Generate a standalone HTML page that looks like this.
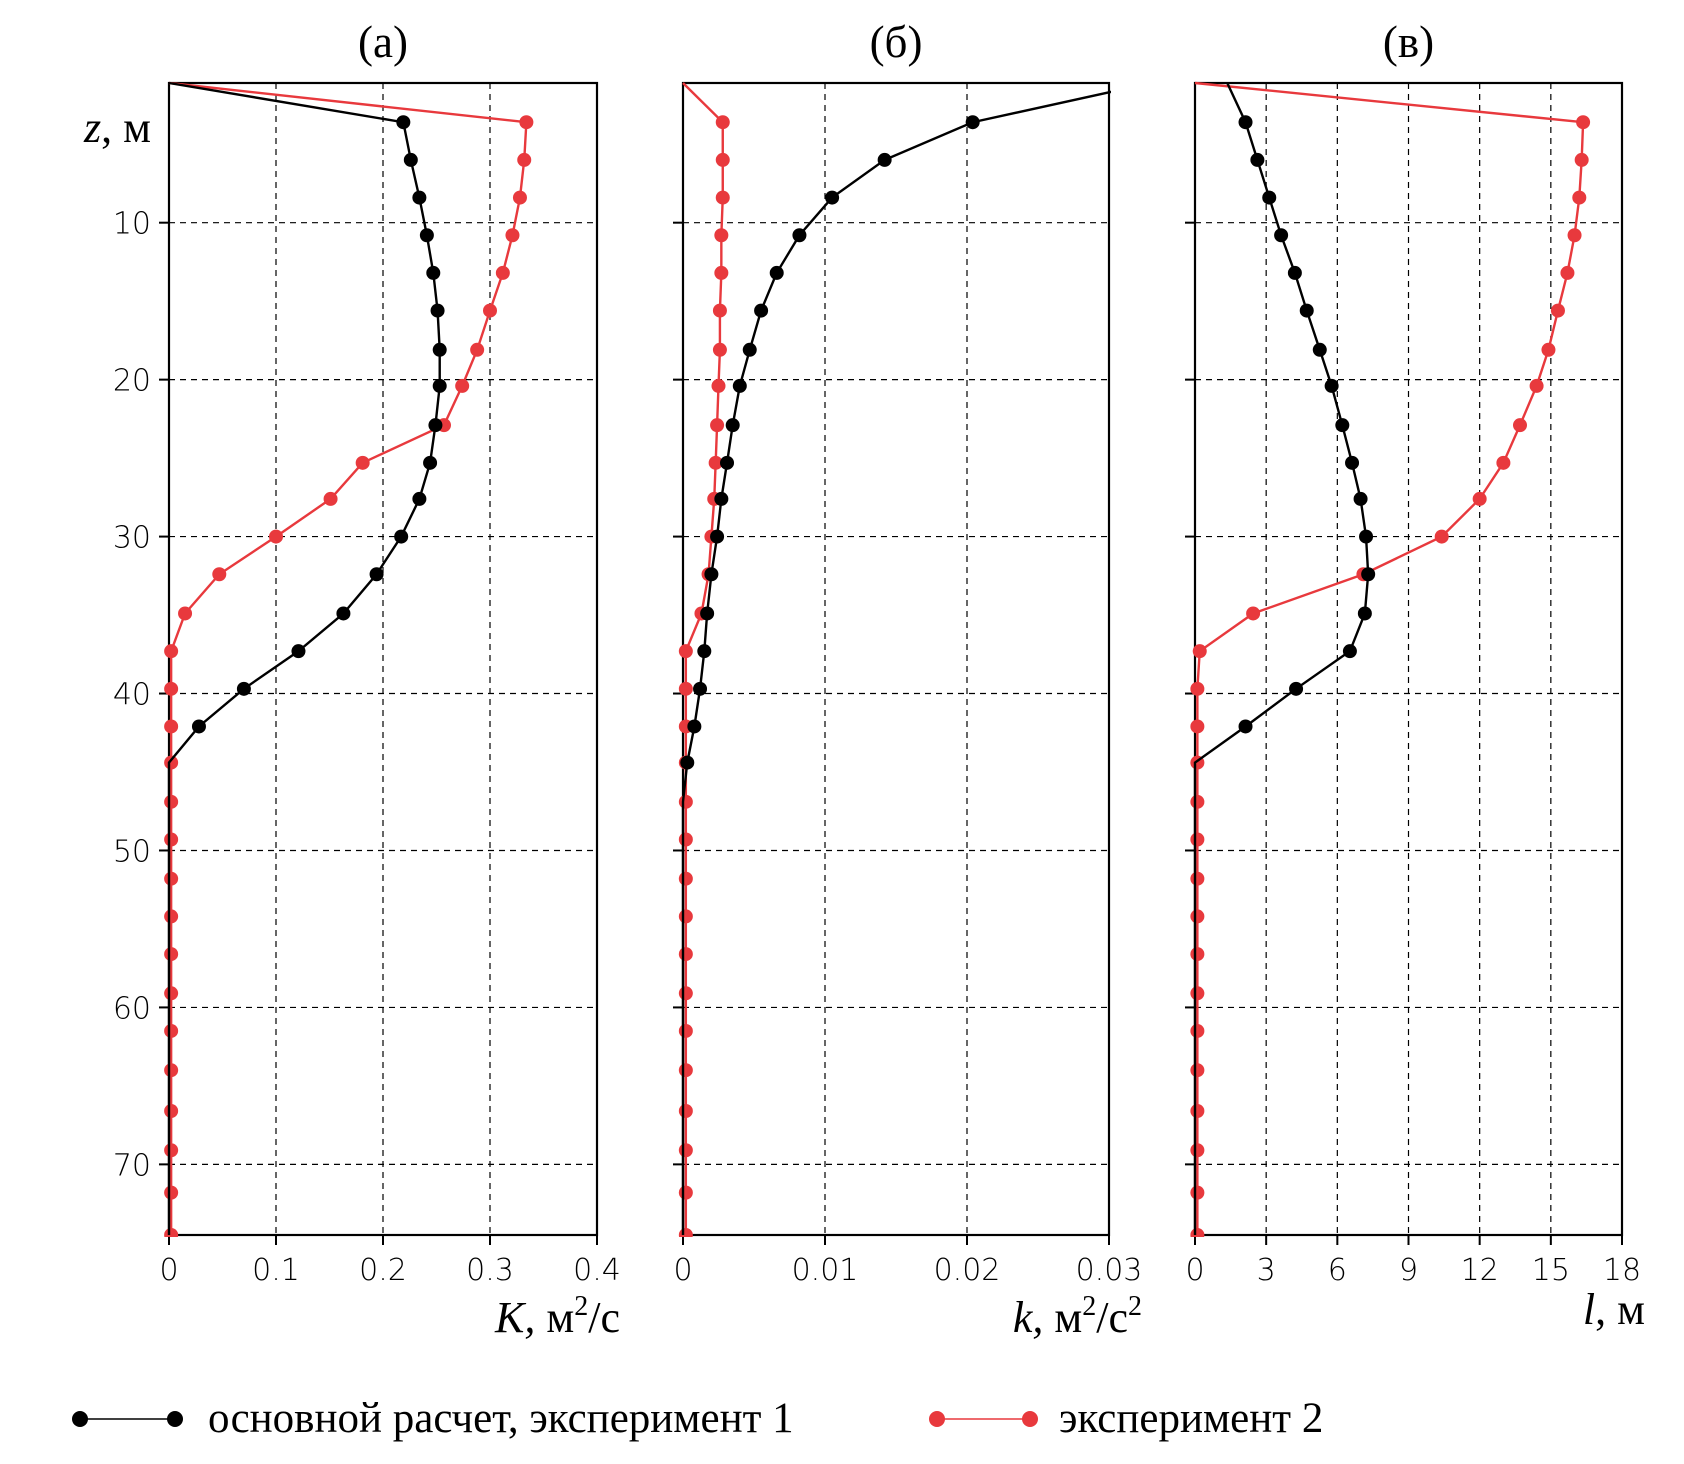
<!DOCTYPE html>
<html><head><meta charset="utf-8"><style>
html,body{margin:0;padding:0;background:#fff;}
svg{display:block;}
.tick{font-family:"DejaVu Sans","Liberation Sans",sans-serif;font-size:30px;fill:#000;font-weight:200;}
.serif{font-family:"Liberation Serif","DejaVu Serif",serif;fill:#000;}
</style></head><body>
<svg id="chart" width="1684" height="1464" viewBox="0 0 1684 1464" xmlns="http://www.w3.org/2000/svg"></svg>
<script>
const zLevels=[1.1,3.6,6.0,8.4,10.8,13.2,15.6,18.1,20.4,22.9,25.3,27.6,30.0,32.4,34.9,37.3,39.7,42.1,44.4,46.9,49.3,51.8,54.2,56.6,59.1,61.5,64.0,66.6,69.1,71.8,74.5];
const zTicks=[10,20,30,40,50,60,70];
const K1=[0,0.219,0.226,0.234,0.241,0.247,0.251,0.253,0.253,0.249,0.244,0.234,0.217,0.194,0.163,0.121,0.070,0.028,0,0,0,0,0,0,0,0,0,0,0,0,0];
const K2=[0,0.334,0.332,0.328,0.321,0.312,0.300,0.288,0.274,0.257,0.181,0.151,0.100,0.047,0.015,0.002,0.002,0.002,0.002,0.002,0.002,0.002,0.002,0.002,0.002,0.002,0.002,0.002,0.002,0.002,0.002];
const k1=[0.033,0.0204,0.0142,0.0105,0.0082,0.0066,0.0055,0.0047,0.0040,0.0035,0.0031,0.0027,0.0024,0.0020,0.0017,0.0015,0.0012,0.0008,0.0003,0,0,0,0,0,0,0,0,0,0,0,0];
const k2=[0,0.0028,0.0028,0.0028,0.0027,0.0027,0.0026,0.0026,0.0025,0.0024,0.0023,0.0022,0.0020,0.0018,0.0013,0.0002,0.0002,0.0002,0.0002,0.0002,0.0002,0.0002,0.0002,0.0002,0.0002,0.0002,0.0002,0.0002,0.0002,0.0002,0.0002];
const l1=[1.36,2.13,2.63,3.13,3.63,4.21,4.71,5.26,5.76,6.21,6.62,6.98,7.21,7.3,7.16,6.53,4.26,2.13,0,0,0,0,0,0,0,0,0,0,0,0,0];
const l2=[0,16.36,16.3,16.2,16.0,15.7,15.3,14.9,14.4,13.7,13.0,12.0,10.4,7.1,2.45,0.2,0.1,0.1,0.1,0.1,0.1,0.1,0.1,0.1,0.1,0.1,0.1,0.1,0.1,0.1,0.1];
const ticksA=["0","0.1","0.2","0.3","0.4"], ticksB=["0","0.01","0.02","0.03"], ticksC=["0","3","6","9","12","15","18"];

const NS="http://www.w3.org/2000/svg";
const svg=document.getElementById('chart');
const TOP=83,BOT=1235,ZMIN=1.1,ZMAX=74.5;
function yOf(z){return TOP+(z-ZMIN)/(ZMAX-ZMIN)*(BOT-TOP);}
function mk(tag,attrs,parent){const e=document.createElementNS(NS,tag);for(const k in attrs)e.setAttribute(k,attrs[k]);(parent||svg).appendChild(e);return e;}

const panels=[
 {id:'a',x0:169,x1:597,max:0.4,ticks:ticksA,s1:K1,s2:K2,title:'(а)'},
 {id:'b',x0:683,x1:1109,max:0.03,ticks:ticksB,s1:k1,s2:k2,title:'(б)'},
 {id:'c',x0:1195,x1:1622,max:18,ticks:ticksC,s1:l1,s2:l2,title:'(в)'}
];
panels.forEach(p=>{
  const g=mk('g',{});
  
  
  const xOf=v=>p.x0+v/p.max*(p.x1-p.x0);
  const cid='clip'+p.id;
  const cp=mk('clipPath',{id:cid},g);mk('rect',{x:p.x0-12,y:TOP-2,width:p.x1-p.x0+14,height:BOT-TOP+4},cp);
  p.ticks.forEach((t,i)=>{
    const x=xOf(parseFloat(t));
    if(i>0&&i<p.ticks.length-1){const gl=mk('line',{x1:x,y1:TOP,x2:x,y2:BOT,stroke:'#000','stroke-width':1.2,'stroke-dasharray':'6,5'},g);
      }
    const tk=mk('line',{x1:x,y1:BOT,x2:x,y2:BOT+10,stroke:'#000','stroke-width':2},g);
    
    const tl=mk('text',{x:x,y:BOT+45,'text-anchor':'middle',class:'tick'},g);tl.textContent=t;
    
  });
  zTicks.forEach(z=>{
    const y=yOf(z);
    const gl=mk('line',{x1:p.x0,y1:y,x2:p.x1,y2:y,stroke:'#000','stroke-width':1.2,'stroke-dasharray':'6,5'},g);
    
    const tk=mk('line',{x1:p.x0-10,y1:y,x2:p.x0,y2:y,stroke:'#000','stroke-width':2},g);
    
    if(p.id==='a'){const tl=mk('text',{x:p.x0-18,y:y+11,'text-anchor':'end',class:'tick'},g);tl.textContent=z;
      }
  });
  const fr=mk('rect',{x:p.x0,y:TOP,width:p.x1-p.x0,height:BOT-TOP,fill:'none',stroke:'#000','stroke-width':2.2},g);
  
  const tt=mk('text',{x:(p.x0+p.x1)/2,y:57,'text-anchor':'middle',class:'serif','font-size':45},g);tt.textContent=p.title;
  
  const dg=mk('g',{'clip-path':'url(#'+cid+')'},g);
  [[p.s2,'#e8393d',2.4,'series-exp2'],[p.s1,'#000',2.4,'series-exp1']].forEach(([s,col,w,nm])=>{
    const pts=s.map((v,i)=>xOf(v)+','+yOf(zLevels[i])).join(' ');
    const pl=mk('polyline',{points:pts,fill:'none',stroke:col,'stroke-width':w},dg);
    
    s.forEach((v,i)=>{
      if(i===0)return;
      if(col==='#000'&&v===0)return;
      const c=mk('circle',{cx:xOf(v),cy:yOf(zLevels[i]),r:7,fill:col},dg);
      
    });
  });
});
function label(x,y,html,name,anchor){
  const t=mk('text',{x:x,y:y,class:'serif','font-size':44,'text-anchor':anchor||'end'});
  t.innerHTML=html;
}
label(151,142,'<tspan font-style="italic">z</tspan>, м','y-axis-title');
label(620,1332,'<tspan font-style="italic">K,</tspan> м<tspan dy="-17" font-size="28">2</tspan><tspan dy="17">/с</tspan>','x-axis-title-a');
label(1142,1332,'<tspan font-style="italic">k,</tspan> м<tspan dy="-17" font-size="28">2</tspan><tspan dy="17">/с</tspan><tspan dy="-17" font-size="28">2</tspan>','x-axis-title-b');
label(1645,1324,'<tspan font-style="italic">l</tspan>, м','x-axis-title-c');
const lg=mk('g',{});
const LY=1419;
[[80,175,'#000',1.6,208,'основной расчет, эксперимент 1','legend-entry-exp1'],[937,1030,'#e8393d',1.6,1059,'эксперимент 2','legend-entry-exp2']].forEach(([a,b,col,w,tx,txt,nm])=>{
  const e=mk('g',{},lg);
  mk('line',{x1:a,y1:LY,x2:b,y2:LY,stroke:col,'stroke-width':w},e);
  mk('circle',{cx:a,cy:LY,r:8,fill:col},e);mk('circle',{cx:b,cy:LY,r:8,fill:col},e);
  const t=mk('text',{x:tx,y:LY+13,class:'serif','font-size':43},e);t.textContent=txt;
});
</script>
</body></html>
